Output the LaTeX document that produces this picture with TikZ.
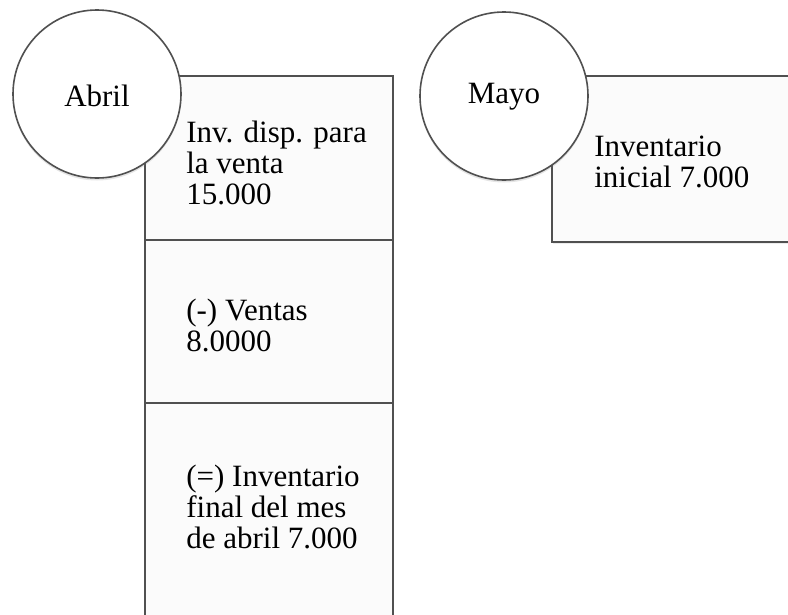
\documentclass[tikz,border=0pt]{standalone}
\usepackage{fontspec}
\setmainfont{Liberation Serif}
\usetikzlibrary{shadows}
\definecolor{edge}{RGB}{80,80,80}
\definecolor{boxfill}{RGB}{251,251,251}
\tikzset{
  box/.style={draw=edge, line width=1.7pt, fill=boxfill, rectangle, minimum width=248pt, inner sep=0pt,
    drop shadow={opacity=0.15, shadow xshift=1pt, shadow yshift=-1.5pt}},
  month/.style={draw=edge, line width=1.6pt, fill=white, circle, minimum size=168pt, inner sep=0pt,
    font=\fontsize{31pt}{32pt}\selectfont,
    drop shadow={opacity=0.2, shadow xshift=0pt, shadow yshift=-2.5pt}},
  lbl/.style={anchor=west, align=left, inner sep=0pt, font=\fontsize{31pt}{31pt}\selectfont}
}
\begin{document}
\begin{tikzpicture}[x=1pt,y=-1pt]
\useasboundingbox (0,0) rectangle (788,614);
\clip (0,0) rectangle (788,614);
\fill[white] (0,0) rectangle (788,614);
% Abril column
\node[box, minimum height=164pt] (b1) at (269,158) {};
\node[box, minimum height=163pt] (b2) at (269,321.5) {};
\node[box, minimum height=220pt] (b3) at (269,513) {};
\node[lbl] (t1) at ([xshift=42pt,yshift=-5pt]b1.west) {Inv. disp. para\\la venta\\15.000};
\node[lbl] (t2) at ([xshift=42pt,yshift=-4pt]b2.west) {(-) Ventas\\8.0000};
\node[lbl] (t3) at ([xshift=42pt,yshift=6pt]b3.west) {(=) Inventario\\final del mes\\de abril 7.000};
\node[month] (abril) at (97,94) {};
\node (abriltxt) at ([yshift=-2pt]abril.center) [font=\fontsize{31pt}{32pt}\selectfont, inner sep=0pt] {Abril};
% Mayo
\node[box, minimum height=166pt] (m1) at (676,159) {};
\node[lbl] (t4) at ([xshift=43pt,yshift=-3pt]m1.west) {Inventario\\inicial 7.000};
\node[month] (mayo) at (504,96) {};
\node (mayotxt) at ([yshift=-1pt]mayo.center) [font=\fontsize{31pt}{32pt}\selectfont, inner sep=0pt] {Mayo};
\end{tikzpicture}
\end{document}
